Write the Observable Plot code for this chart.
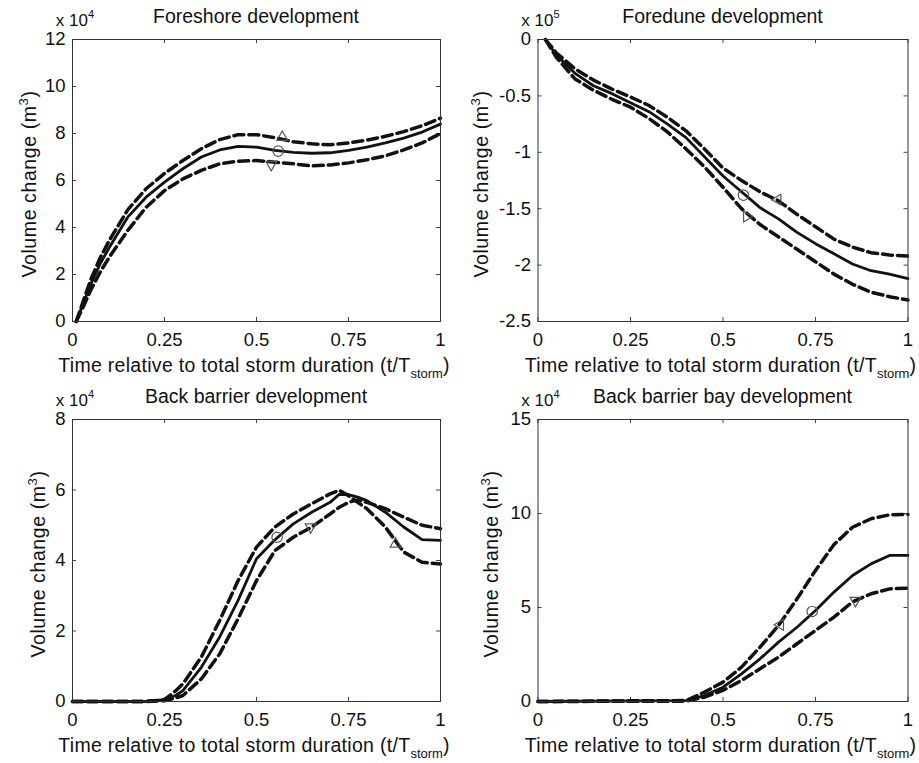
<!DOCTYPE html>
<html><head><meta charset="utf-8">
<script src="https://cdn.jsdelivr.net/npm/d3@7"></script>
<script src="https://cdn.jsdelivr.net/npm/@observablehq/plot@0.6"></script>
<style>
html,body{margin:0;padding:0;background:#fff;}
#wrap{position:relative;width:919px;height:763px;overflow:hidden;background:#fff;}
#wrap svg{position:absolute;overflow:visible;}
</style></head><body><div id="wrap"></div>
<script>
const FONT = "'Liberation Sans', Arial, Helvetica, sans-serif";

// shared x axis
const xTicks = [0, 0.25, 0.5, 0.75, 1];
const xTickLabels = ["0", "0.25", "0.5", "0.75", "1"];

// Foreshore development (x 10^4 m3)
const tForeshore    = [0.01, 0.03, 0.05, 0.075, 0.1, 0.15, 0.2, 0.25, 0.3, 0.35, 0.4, 0.45, 0.5, 0.55, 0.6, 0.65, 0.7, 0.75, 0.8, 0.85, 0.9, 0.95, 1.0];
const foreshoreMean  = [0, 0.8, 1.6, 2.45, 3.15, 4.44, 5.29, 5.93, 6.5, 7.0, 7.3, 7.45, 7.42, 7.28, 7.2, 7.16, 7.18, 7.28, 7.42, 7.6, 7.8, 8.06, 8.4];
const foreshoreUpper = [0, 0.9, 1.8, 2.7, 3.45, 4.75, 5.65, 6.3, 6.85, 7.35, 7.74, 7.95, 7.95, 7.82, 7.65, 7.56, 7.52, 7.6, 7.72, 7.88, 8.08, 8.33, 8.65];
const foreshoreLower = [0, 0.65, 1.35, 2.1, 2.74, 3.87, 4.86, 5.57, 6.07, 6.43, 6.71, 6.82, 6.85, 6.78, 6.71, 6.62, 6.66, 6.75, 6.88, 7.05, 7.3, 7.6, 8.0];
const foreshoreYTicks = [0, 2, 4, 6, 8, 10, 12];
const foreshoreMarkers = [
  {t: 0.57, v: 7.84, kind: "up"},
  {t: 0.559, v: 7.25, kind: "circle"},
  {t: 0.54, v: 6.68, kind: "down"}
];

// Foredune development (x 10^5 m3)
const tForedune    = [0.02, 0.05, 0.1, 0.15, 0.2, 0.25, 0.3, 0.35, 0.4, 0.45, 0.5, 0.55, 0.6, 0.65, 0.7, 0.75, 0.8, 0.85, 0.9, 0.95, 1.0];
const foreduneMean  = [0, -0.14, -0.30, -0.41, -0.48, -0.56, -0.64, -0.75, -0.87, -1.04, -1.21, -1.35, -1.49, -1.59, -1.71, -1.81, -1.90, -1.99, -2.05, -2.08, -2.12];
const foreduneUpper = [0, -0.12, -0.26, -0.36, -0.44, -0.51, -0.585, -0.69, -0.81, -0.97, -1.14, -1.25, -1.35, -1.43, -1.55, -1.66, -1.77, -1.84, -1.89, -1.91, -1.92];
const foreduneLower = [0, -0.16, -0.35, -0.45, -0.53, -0.60, -0.70, -0.82, -0.97, -1.13, -1.31, -1.50, -1.64, -1.75, -1.86, -1.97, -2.08, -2.17, -2.24, -2.28, -2.31];
const foreduneYTicks = [0, -0.5, -1, -1.5, -2, -2.5];
const foreduneMarkers = [
  {t: 0.648, v: -1.42, kind: "left"},
  {t: 0.555, v: -1.38, kind: "circle"},
  {t: 0.564, v: -1.57, kind: "right"}
];

// Back barrier development (x 10^4 m3)
const tBarrier    = [0, 0.2, 0.25, 0.28, 0.3, 0.35, 0.4, 0.45, 0.5, 0.55, 0.6, 0.65, 0.7, 0.725, 0.75, 0.775, 0.8, 0.85, 0.9, 0.95, 1.0];
const barrierMean  = [0, 0, 0.05, 0.17, 0.31, 0.97, 1.83, 2.87, 4.05, 4.59, 5.04, 5.37, 5.65, 5.88, 5.87, 5.8, 5.70, 5.37, 4.95, 4.59, 4.57];
const barrierUpper = [0, 0, 0.05, 0.3, 0.5, 1.26, 2.3, 3.43, 4.38, 4.95, 5.32, 5.61, 5.89, 5.99, 5.84, 5.65, 5.47, 4.95, 4.24, 3.95, 3.9];
const barrierLower = [0, 0, 0.02, 0.1, 0.17, 0.64, 1.35, 2.35, 3.43, 4.28, 4.66, 4.95, 5.32, 5.51, 5.65, 5.72, 5.65, 5.47, 5.23, 5.0, 4.9];
const barrierYTicks = [0, 2, 4, 6, 8];
const barrierMarkers = [
  {t: 0.556, v: 4.66, kind: "circle"},
  {t: 0.647, v: 4.95, kind: "down"},
  {t: 0.878, v: 4.47, kind: "up"}
];

// Back barrier bay development (x 10^4 m3)
const tBay    = [0, 0.4, 0.45, 0.5, 0.55, 0.6, 0.65, 0.7, 0.75, 0.8, 0.85, 0.9, 0.95, 1.0];
const bayMean  = [0, 0.05, 0.32, 0.76, 1.47, 2.27, 3.16, 3.95, 4.84, 5.82, 6.70, 7.32, 7.77, 7.77];
const bayUpper = [0, 0.05, 0.5, 1.03, 1.83, 2.89, 4.04, 5.46, 6.97, 8.35, 9.27, 9.72, 9.93, 9.95];
const bayLower = [0, 0.02, 0.23, 0.59, 1.12, 1.74, 2.36, 3.07, 3.78, 4.49, 5.3, 5.73, 5.99, 6.03];
const bayYTicks = [0, 5, 10, 15];
const bayMarkers = [
  {t: 0.655, v: 4.08, kind: "left"},
  {t: 0.741, v: 4.79, kind: "circle"},
  {t: 0.858, v: 5.37, kind: "down"}
];

// triangle symbols pointing in a given direction (screen angle in degrees)
function triangle(angleDeg) {
  return {
    draw(ctx, size) {
      const R = Math.sqrt(size / Math.PI) * 1.2;
      for (let k = 0; k < 3; ++k) {
        const a = (angleDeg + 120 * k) * Math.PI / 180;
        const px = R * Math.cos(a), py = R * Math.sin(a);
        if (k === 0) ctx.moveTo(px, py); else ctx.lineTo(px, py);
      }
      ctx.closePath();
    }
  };
}
const symbols = {
  circle: "circle",
  up: triangle(-90),
  down: triangle(90),
  left: triangle(180),
  right: triangle(0)
};

const panels = [
  {title: "Foreshore development", exp: "4", t: tForeshore, mean: foreshoreMean, upper: foreshoreUpper, lower: foreshoreLower,
   yTicks: foreshoreYTicks, yDomain: [0, 12], markers: foreshoreMarkers,
   left: 0, top: 0, width: 459, height: 380, mL: 72, mR: 19, mT: 39, mB: 59, yLabelGap: 36},
  {title: "Foredune development", exp: "5", t: tForedune, mean: foreduneMean, upper: foreduneUpper, lower: foreduneLower,
   yTicks: foreduneYTicks, yDomain: [-2.5, 0], markers: foreduneMarkers,
   left: 459, top: 0, width: 460, height: 380, mL: 78.5, mR: 11.5, mT: 39, mB: 59, yLabelGap: 49.5},
  {title: "Back barrier development", exp: "4", t: tBarrier, mean: barrierMean, upper: barrierUpper, lower: barrierLower,
   yTicks: barrierYTicks, yDomain: [0, 8], markers: barrierMarkers,
   left: 0, top: 380, width: 459, height: 383, mL: 72, mR: 19, mT: 39, mB: 62, yLabelGap: 27},
  {title: "Back barrier bay development", exp: "4", t: tBay, mean: bayMean, upper: bayUpper, lower: bayLower,
   yTicks: bayYTicks, yDomain: [0, 15], markers: bayMarkers,
   left: 459, top: 380, width: 460, height: 383, mL: 78.5, mR: 11.5, mT: 39, mB: 62, yLabelGap: 39.5}
];

const wrap = document.getElementById("wrap");

for (const p of panels) {
  const rows = p.t.map((t, i) => ({t, mean: p.mean[i], upper: p.upper[i], lower: p.lower[i]}));
  const fw = p.width - p.mL - p.mR;
  const fh = p.height - p.mT - p.mB;
  const tickLen = 4;
  const dash = {stroke: "#111", strokeWidth: 3.5, strokeDasharray: "10,5", strokeLinejoin: "round"};
  const markerStyle = {x: "t", y: "v", r: 5.2, stroke: "#555", strokeWidth: 1.2, fill: "none"};
  const chart = Plot.plot({
    width: p.width, height: p.height,
    marginLeft: p.mL, marginRight: p.mR, marginTop: p.mT, marginBottom: p.mB,
    x: {domain: [0, 1], ticks: xTicks, tickSize: 0, tickPadding: 11, label: null,
        tickFormat: d => xTickLabels[xTicks.indexOf(d)]},
    y: {domain: p.yDomain, ticks: p.yTicks, tickSize: 0, tickPadding: 7, label: null,
        tickFormat: d => String(d)},
    style: {fontFamily: FONT, fontSize: "18.5px", color: "#111", background: "transparent", overflow: "visible"},
    marks: [
      Plot.tickX(xTicks, {x: d => d, insetTop: fh - tickLen, stroke: "#444"}),
      Plot.tickX(xTicks, {x: d => d, insetBottom: fh - tickLen, stroke: "#444"}),
      Plot.tickY(p.yTicks, {y: d => d, insetRight: fw - tickLen, stroke: "#444"}),
      Plot.tickY(p.yTicks, {y: d => d, insetLeft: fw - tickLen, stroke: "#444"}),
      Plot.line(rows, {x: "t", y: "upper", ...dash}),
      Plot.line(rows, {x: "t", y: "lower", ...dash}),
      Plot.line(rows, {x: "t", y: "mean", stroke: "#111", strokeWidth: 2.8, strokeLinejoin: "round"}),
      ...Object.keys(symbols).map(k =>
        Plot.dot(p.markers, {...markerStyle, filter: d => d.kind === k, symbol: symbols[k]})),
      Plot.frame({stroke: "#333", strokeWidth: 1})
    ]
  });
  chart.style.left = p.left + "px";
  chart.style.top = p.top + "px";
  wrap.appendChild(chart);

  const [x0, x1] = chart.scale("x").range;
  const [yb, yt] = chart.scale("y").range;
  const cx = (x0 + x1) / 2, cy = (yb + yt) / 2;
  const g = d3.select(chart).append("g").attr("font-family", FONT).attr("fill", "#111");
  g.append("text").attr("x", cx).attr("y", yt - 16).attr("text-anchor", "middle")
    .attr("font-size", 19.5).text(p.title);
  const mult = g.append("text").attr("x", x0 + 3).attr("y", yt - 13).attr("font-size", 17);
  mult.append("tspan").text("x 10");
  mult.append("tspan").attr("dy", -8).attr("font-size", 11).text(p.exp);
  const xl = g.append("text").attr("x", cx - 2).attr("y", yb + 51).attr("text-anchor", "middle")
    .attr("font-size", 19.5).attr("letter-spacing", 0.3);
  xl.append("tspan").text("Time relative to total storm duration (t/T");
  xl.append("tspan").attr("dy", 6).attr("font-size", 13).attr("letter-spacing", 0).text("storm");
  xl.append("tspan").attr("dy", -6).text(")");
  const yl = g.append("text")
    .attr("transform", `translate(${x0 - p.yLabelGap},${cy + 4}) rotate(-90)`)
    .attr("text-anchor", "middle").attr("font-size", 19.5).attr("letter-spacing", 0.6);
  yl.append("tspan").text("Volume change (m");
  yl.append("tspan").attr("dy", -8).attr("font-size", 13).text("3");
  yl.append("tspan").attr("dy", 8).text(")");
}
</script>
</body></html>
